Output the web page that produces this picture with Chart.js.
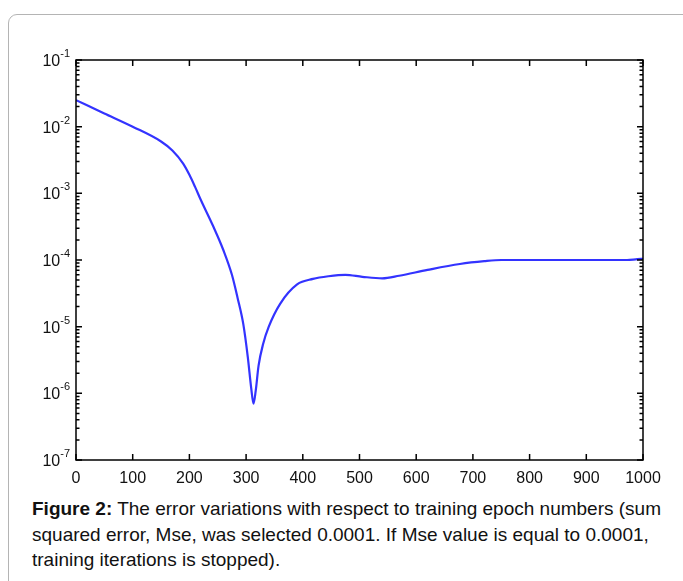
<!DOCTYPE html>
<html>
<head>
<meta charset="utf-8">
<script src="https://cdn.jsdelivr.net/npm/chart.js@4/dist/chart.umd.min.js"></script>
<style>
  body { margin: 0; background: #fff; width: 683px; height: 581px; overflow: hidden; position: relative; }
  #card { position: absolute; left: 8px; top: 14px; width: 720px; height: 620px; border: 1px solid #b4b4b4; border-radius: 9px; }
  #wrap { position: absolute; left: 0; top: 0; width: 683px; height: 490px; }
  #caption { position: absolute; left: 32px; top: 496px; width: 645px; font: 19px "Liberation Sans", Arial, sans-serif; line-height: 25.5px; color: #111; }
</style>
</head>
<body>
<div id="card"></div>
<div id="wrap"><canvas id="myChart"></canvas></div>
<div id="caption"><b>Figure 2:</b> The error variations with respect to training epoch numbers (sum squared error, Mse, was selected 0.0001. If Mse value is equal to 0.0001, training iterations is stopped).</div>
<script>
// epochs and the mse
const epochs = [0, 50, 100, 150, 170, 189, 200, 210, 220, 242, 260, 275, 285, 295, 303, 309, 313, 317, 322, 330, 340, 360, 390, 418, 445, 475, 505, 540, 570, 620, 677, 720, 750, 800, 900, 972, 990, 1000]
const mse = [0.025, 0.0158, 0.0100, 0.0060, 0.0044, 0.0028, 0.0019, 0.00125, 0.00080, 0.00032, 0.00014, 0.000060, 0.000027, 0.000011, 0.0000035, 0.0000012, 0.00000070, 0.0000011, 0.0000026, 0.0000055, 0.000010, 0.000022, 0.000043, 0.000052, 0.000057, 0.000060, 0.000056, 0.000053, 0.000058, 0.000071, 0.000087, 0.000096, 0.000100, 0.000100, 0.000100, 0.000100, 0.000103, 0.000104]
const xTicks = [0, 100, 200, 300, 400, 500, 600, 700, 800, 900, 1000]
const yDecades = [-7, -6, -5, -4, -3, -2, -1]

let points = []
for (let i = 0; i < epochs.length; i++) {
  points.push({x: epochs[i], y: mse[i]})
}

// matlab style box, inward ticks and 10^n labels
const matlabAxes = {
  id: 'matlabAxes',
  afterDraw(chart) {
    const ctx = chart.ctx
    const a = chart.chartArea
    const xs = chart.scales.x
    const ys = chart.scales.y
    ctx.save()
    ctx.strokeStyle = '#000'
    ctx.lineWidth = 1.5
    ctx.strokeRect(a.left, a.top, a.right - a.left, a.bottom - a.top)
    ctx.beginPath()
    xTicks.forEach(function (t) {
      const px = xs.getPixelForValue(t)
      ctx.moveTo(px, a.bottom); ctx.lineTo(px, a.bottom - 6)
      ctx.moveTo(px, a.top); ctx.lineTo(px, a.top + 6)
    })
    yDecades.forEach(function (d) {
      for (let m = 1; m <= 9; m++) {
        if (d == -1 && m > 1) break
        const py = ys.getPixelForValue(m * Math.pow(10, d))
        const len = m == 1 ? 6 : 3.5
        ctx.moveTo(a.left, py); ctx.lineTo(a.left + len, py)
        ctx.moveTo(a.right, py); ctx.lineTo(a.right - len, py)
      }
    })
    ctx.stroke()
    ctx.fillStyle = '#111'
    yDecades.forEach(function (d) {
      const py = ys.getPixelForValue(Math.pow(10, d))
      const sup = String(d)
      ctx.font = '11px "Liberation Sans", Arial, sans-serif'
      const supW = ctx.measureText(sup).width
      const supX = a.left - 6 - supW
      ctx.textAlign = 'left'
      ctx.textBaseline = 'alphabetic'
      ctx.fillText(sup, supX, py - 3)
      ctx.font = '16px "Liberation Sans", Arial, sans-serif'
      ctx.textAlign = 'right'
      ctx.fillText('10', supX, py + 6)
    })
    ctx.restore()
  }
}

const chart = new Chart(document.getElementById('myChart'), {
  type: 'line',
  data: {
    datasets: [{
      data: points,
      borderColor: '#3333ff',
      borderWidth: 2.2,
      pointRadius: 0,
      fill: false,
      cubicInterpolationMode: 'monotone'
    }]
  },
  options: {
    responsive: true,
    maintainAspectRatio: false,
    animation: false,
    layout: { padding: { left: 0, top: 60, right: 40, bottom: 0 } },
    plugins: { legend: { display: false }, tooltip: { enabled: false } },
    scales: {
      x: {
        type: 'linear',
        min: 0, max: 1000,
        grid: { display: false, drawTicks: false },
        border: { display: false },
        ticks: { stepSize: 100, padding: 9, color: '#111', maxRotation: 0,
                 font: { family: '"Liberation Sans", Arial, sans-serif', size: 16 },
                 callback: function (v) { return String(v) } },
        afterFit: function (s) { s.height = 30 }
      },
      y: {
        type: 'logarithmic',
        min: 1e-7, max: 1e-1,
        grid: { display: false, drawTicks: false },
        border: { display: false },
        ticks: { display: false },
        afterFit: function (s) { s.width = 76 }
      }
    }
  },
  plugins: [matlabAxes]
})
</script>
</body>
</html>
